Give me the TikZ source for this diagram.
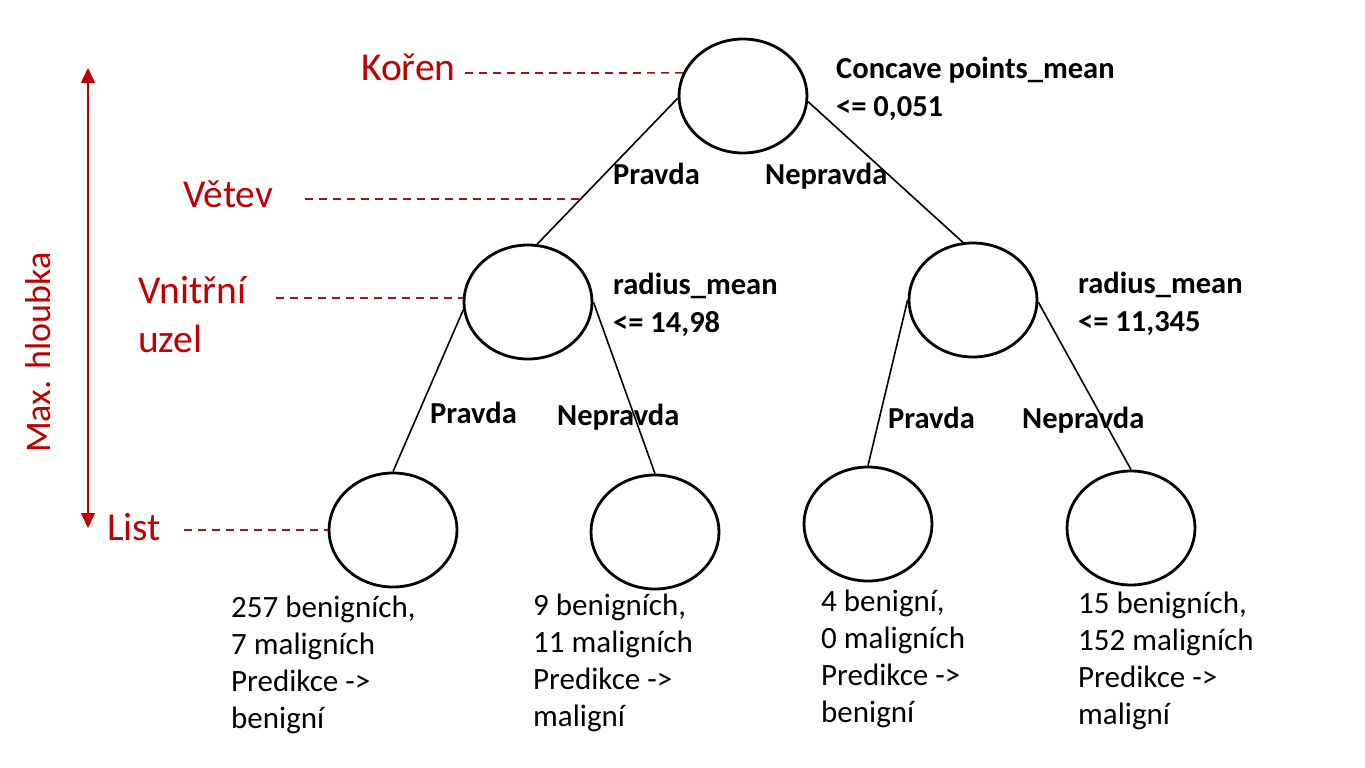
\documentclass[tikz,border=0pt]{standalone}
\usepackage{fontspec}
\setmainfont{Carlito}
\usetikzlibrary{shapes.geometric,arrows.meta}
\definecolor{lblred}{RGB}{192,0,0}
\definecolor{dashred}{RGB}{150,25,25}
\begin{document}
\begin{tikzpicture}[x=1pt,y=-1pt,
  nd/.style={ellipse, draw=black, line width=2.8pt, minimum width=128pt, minimum height=114pt, inner sep=0pt},
  edge/.style={draw=black, line width=1.6pt},
  guide/.style={draw=dashred, line width=1.6pt, dash pattern=on 8pt off 6pt},
  redlbl/.style={text=lblred, font=\fontsize{39.5}{49}\selectfont, inner sep=0pt, anchor=base west, align=left},
  cond/.style={font=\bfseries\fontsize{30.5}{37.5}\selectfont, inner sep=0pt, anchor=base west, align=left},
  brl/.style={font=\bfseries\fontsize{30.5}{37}\selectfont, inner sep=0pt, anchor=base west},
  leaftxt/.style={font=\fontsize{31}{37}\selectfont, inner sep=0pt, anchor=base west, align=left}]
\useasboundingbox[fill=white] (0,0) rectangle (1365,768);

% tree nodes
\node[nd] (root) at (743,96) {};
\node[nd] (li) at (528,302) {};
\node[nd] (ri) at (973,300) {};
\node[nd] (l1) at (393,530) {};
\node[nd] (l2) at (655,532) {};
\node[nd] (l3) at (868,524) {};
\node[nd] (l4) at (1131,528) {};

% branches
\draw[edge] (root.182) -- (li.81);
\draw[edge] (root.-5) -- (ri.100);
\draw[edge] (li.187) -- (l1.north);
\draw[edge] (li.east) -- (l2.north);
\draw[edge] (ri.west) -- (l3.north);
\draw[edge] (ri.-2) -- (l4.north);

% conditions (anchor = baseline of last line)
\node[cond] (c0) at (836,116) {Concave points\_mean\\<= 0,051};
\node[cond] (c1) at (613,332) {radius\_mean\\<= 14,98};
\node[cond] (c2) at (1078,331) {radius\_mean\\<= 11,345};

% branch labels
\node[brl] (b1) at (613,184) {Pravda};
\node[brl] (b2) at (765,184) {Nepravda};
\node[brl] (b3) at (430,423) {Pravda};
\node[brl] (b4) at (557,425) {Nepravda};
\node[brl] (b5) at (888,428) {Pravda};
\node[brl] (b6) at (1022,428) {Nepravda};

% leaf texts (anchor = baseline of last line)
\node[leaftxt] (t1) at (231,728) {257 benigních,\\7 maligních\\Predikce ->\\benigní};
\node[leaftxt] (t2) at (533,726) {9 benigních,\\11 maligních\\Predikce ->\\maligní};
\node[leaftxt] (t3) at (821,722) {4 benigní,\\0 maligních\\Predikce ->\\benigní};
\node[leaftxt] (t4) at (1078,724) {15 benigních,\\152 maligních\\Predikce ->\\maligní};

% red annotations
\node[redlbl] (koren) at (361,81) {Kořen};
\node[redlbl] (vetev) at (183,207) {Větev};
\node[redlbl] (vnitrni) at (138,352) {Vnitřní\\uzel};
\node[redlbl] (list) at (107,540) {List};
\node[redlbl, font=\fontsize{36}{44}\selectfont, rotate=90] (maxh) at (50,453) {Max. hloubka};

\coordinate (kd) at (465,73);
\coordinate (vd) at (305,199);
\coordinate (vbend) at (580,199);
\coordinate (nd0) at (276,298);
\coordinate (ld) at (184,530);
\draw[guide] (kd) -- (root.159);
\draw[guide] (vd) -- (vbend);
\draw[guide] (nd0) -- (li.west |- nd0);
\draw[guide] (ld) -- (l1.west);

\coordinate (atop) at (88,68);
\coordinate (abot) at (88,528);
\draw[draw=lblred, line width=1.6pt, {Triangle[width=14pt,length=15pt]}-{Triangle[width=14pt,length=15pt]}] (atop) -- (abot);
\end{tikzpicture}
\end{document}
